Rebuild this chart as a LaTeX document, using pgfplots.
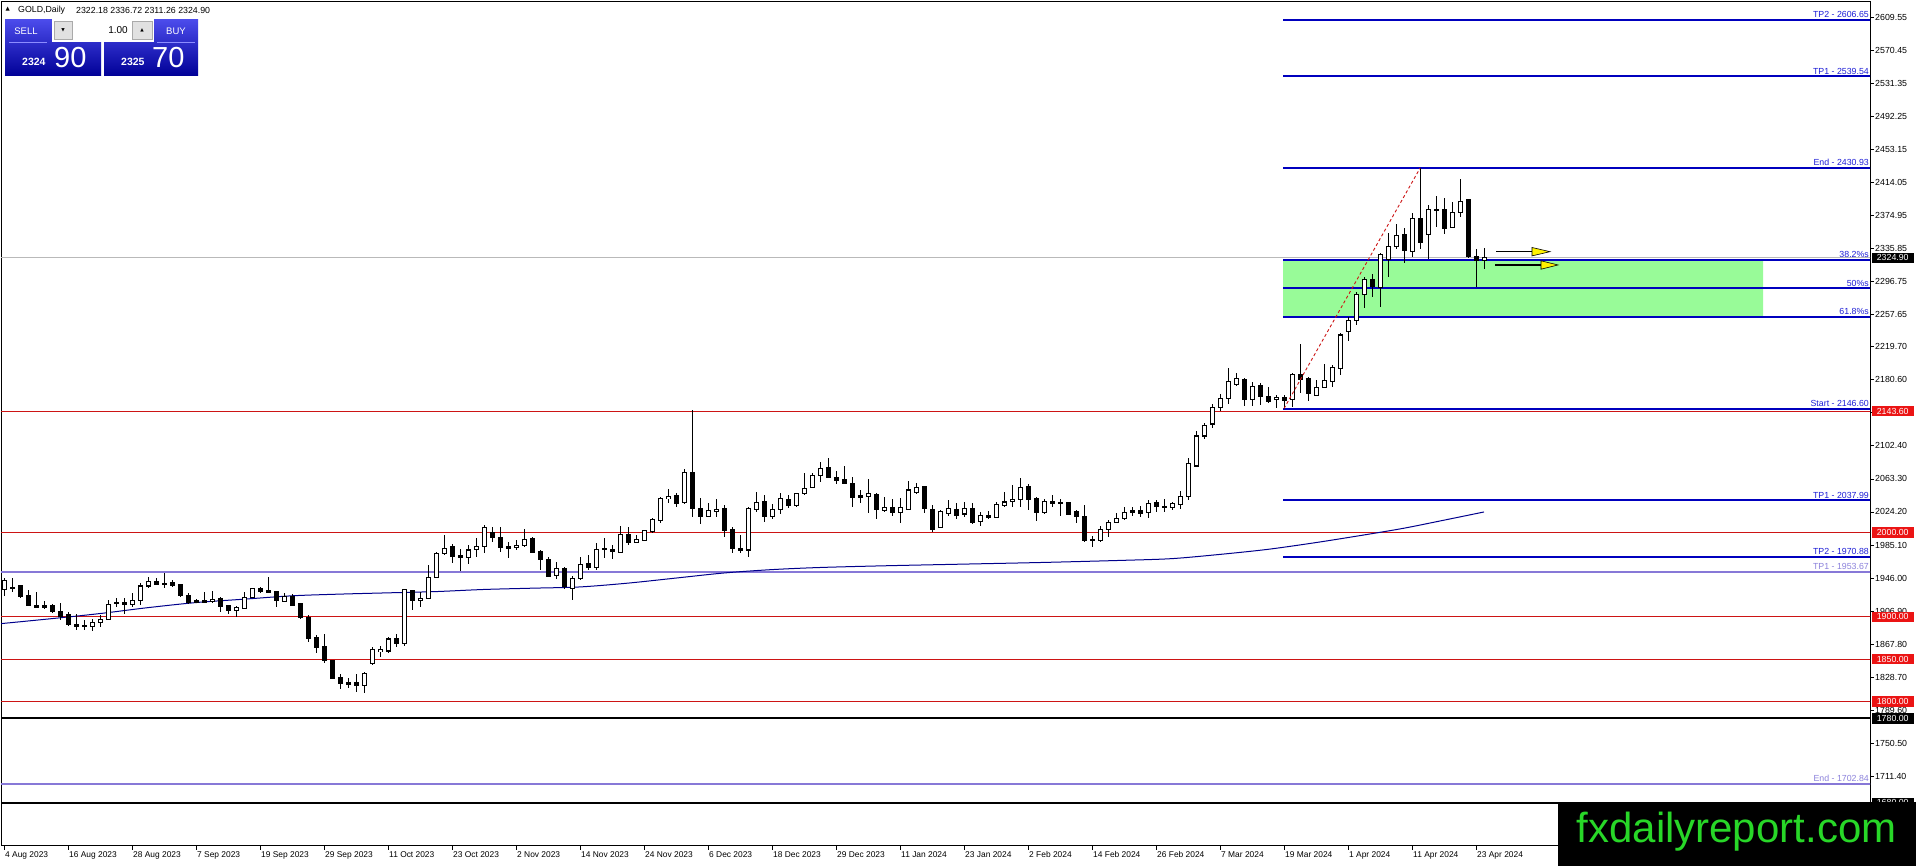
\documentclass[border=0pt]{standalone}
\usepackage{fontspec}
\setmainfont{Liberation Sans}
\newfontfamily\dejavu{DejaVu Sans}
\usepackage{pgfplots}
\pgfplotsset{compat=1.18}
\usepackage{pgfplotstable}

\definecolor{fibblue}{RGB}{0,0,190}
\definecolor{fibtext}{RGB}{30,30,215}
\definecolor{lilac}{RGB}{135,120,215}
\definecolor{lilactext}{RGB}{140,130,220}
\definecolor{srred}{RGB}{205,20,20}
\definecolor{boxred}{RGB}{235,20,20}
\definecolor{maline}{RGB}{0,0,140}
\definecolor{zone}{RGB}{152,251,152}
\definecolor{wm}{RGB}{40,215,40}
\definecolor{curgray}{RGB}{185,185,185}
\definecolor{btngray}{RGB}{225,225,225}
\definecolor{btnborder}{RGB}{170,170,170}
\definecolor{sepline}{RGB}{140,140,255}
\definecolor{paneltop}{RGB}{75,75,235}
\definecolor{panelbot}{RGB}{0,0,150}

\pgfplotstableread{
i o h l c
0 1932.7 1945.7 1924.8 1943.7
1 1935.0 1945.7 1929.9 1933.5
2 1937.0 1937.8 1922.0 1924.0
3 1924.8 1931.9 1913.0 1913.4
4 1913.8 1929.9 1911.0 1911.4
5 1913.4 1919.3 1909.4 1911.4
6 1913.0 1915.3 1905.1 1906.3
7 1907.0 1916.9 1896.4 1901.1
8 1902.3 1906.3 1889.3 1890.5
9 1891.3 1903.5 1884.5 1888.5
10 1889.7 1896.4 1884.5 1888.5
11 1888.5 1897.6 1883.8 1894.0
12 1893.2 1902.3 1887.7 1896.4
13 1897.2 1920.1 1896.4 1914.9
14 1916.1 1922.0 1912.2 1916.9
15 1916.9 1922.0 1903.5 1914.2
16 1914.2 1927.9 1912.2 1919.7
17 1919.3 1940.6 1913.8 1936.6
18 1936.6 1947.7 1933.9 1941.4
19 1942.5 1946.5 1937.8 1938.6
20 1939.8 1951.6 1933.9 1939.0
21 1941.0 1943.7 1935.8 1937.4
22 1938.2 1939.0 1924.0 1924.8
23 1925.2 1927.9 1915.3 1916.9
24 1918.9 1920.8 1916.0 1916.5
25 1918.9 1929.5 1916.1 1917.3
26 1918.5 1930.7 1916.1 1920.8
27 1922.0 1924.0 1906.3 1912.2
28 1913.0 1914.1 1903.5 1907.4
29 1908.2 1913.0 1900.3 1911.0
30 1910.2 1929.9 1909.0 1923.2
31 1923.2 1933.9 1922.0 1933.1
32 1933.9 1935.8 1928.7 1929.9
33 1931.1 1946.9 1927.9 1929.5
34 1929.9 1931.1 1912.2 1919.3
35 1918.1 1927.9 1917.7 1924.0
36 1924.0 1927.1 1913.4 1914.1
37 1915.3 1916.1 1898.0 1899.5
38 1899.5 1902.3 1870.7 1874.7
39 1875.5 1878.6 1856.9 1863.6
40 1864.8 1879.8 1845.9 1848.3
41 1847.9 1849.1 1826.2 1827.0
42 1827.8 1832.5 1814.4 1820.7
43 1822.2 1827.4 1815.5 1819.9
44 1822.2 1832.5 1811.6 1819.1
45 1819.1 1835.2 1809.6 1832.5
46 1845.1 1864.8 1843.1 1860.9
47 1858.9 1865.6 1853.0 1860.9
48 1859.7 1875.9 1857.7 1873.9
49 1874.0 1880.0 1865.0 1868.0
50 1868.0 1933.0 1866.0 1931.9
51 1930.7 1931.1 1908.2 1920.0
52 1920.0 1929.9 1911.4 1922.4
53 1922.0 1961.5 1921.0 1946.9
54 1946.9 1977.3 1945.7 1975.3
55 1974.5 1997.0 1973.3 1981.2
56 1983.9 1986.3 1963.4 1972.1
57 1972.1 1980.0 1954.8 1970.5
58 1970.5 1985.1 1962.7 1979.2
59 1980.0 1993.0 1971.3 1983.1
60 1983.1 2008.8 1976.0 2006.0
61 1999.7 2006.8 1989.1 1994.2
62 1994.2 2006.8 1977.0 1982.4
63 1983.9 1989.1 1969.4 1980.8
64 1982.4 1991.0 1979.2 1985.1
65 1985.1 2003.7 1982.4 1991.8
66 1993.0 1994.2 1975.3 1976.0
67 1978.0 1979.2 1955.5 1967.4
68 1968.2 1970.5 1946.9 1948.4
69 1949.6 1965.4 1944.5 1957.5
70 1957.5 1959.5 1932.7 1935.8
71 1933.9 1948.5 1920.0 1945.7
72 1946.0 1971.0 1944.0 1961.5
73 1963.0 1973.0 1956.0 1959.0
74 1959.0 1987.1 1956.0 1980.0
75 1981.0 1993.0 1970.0 1980.0
76 1980.0 1984.7 1968.2 1977.2
77 1976.5 2007.6 1975.3 1997.8
78 1997.8 2006.0 1985.1 1987.9
79 1987.9 1997.0 1987.5 1991.8
80 1991.0 2002.1 1990.0 2001.7
81 2000.9 2016.7 1999.7 2015.5
82 2013.9 2042.3 2010.8 2040.4
83 2040.0 2051.0 2034.4 2042.3
84 2043.5 2046.3 2030.5 2034.4
85 2035.2 2074.7 2033.6 2071.1
86 2071.1 2144.5 2018.7 2028.5
87 2028.5 2040.4 2009.6 2018.7
88 2018.7 2035.2 2017.9 2025.4
89 2025.0 2039.2 2018.7 2027.7
90 2028.5 2032.5 1994.2 2002.1
91 2003.7 2006.8 1975.3 1981.2
92 1981.2 1997.0 1976.1 1978.4
93 1979.2 2029.7 1971.3 2028.5
94 2027.3 2048.2 2024.6 2035.6
95 2036.4 2044.3 2012.7 2018.7
96 2019.4 2033.6 2015.5 2027.3
97 2026.6 2046.3 2021.8 2040.3
98 2039.2 2044.3 2028.5 2031.3
99 2031.3 2046.0 2030.0 2045.5
100 2046.3 2069.9 2044.3 2052.2
101 2053.0 2070.0 2052.0 2067.0
102 2067.9 2083.7 2060.1 2075.8
103 2077.0 2087.7 2064.0 2065.2
104 2065.2 2073.1 2057.3 2061.3
105 2062.8 2078.6 2057.3 2058.1
106 2058.1 2065.2 2029.7 2041.5
107 2043.1 2050.2 2034.4 2041.8
108 2043.1 2062.8 2023.4 2045.5
109 2044.3 2047.1 2015.5 2027.3
110 2026.5 2041.5 2024.6 2029.3
111 2029.7 2039.2 2019.4 2023.4
112 2023.4 2040.4 2011.6 2029.7
113 2027.3 2061.3 2026.5 2050.2
114 2047.1 2058.9 2045.5 2053.4
115 2054.2 2055.0 2023.4 2028.5
116 2027.3 2032.5 2000.9 2003.7
117 2006.0 2026.5 2004.9 2024.6
118 2022.6 2038.4 2019.4 2028.5
119 2027.3 2034.4 2015.5 2020.0
120 2021.8 2036.4 2018.7 2028.5
121 2028.5 2035.2 2010.0 2011.6
122 2012.7 2024.6 2007.6 2020.6
123 2020.6 2025.8 2015.5 2017.9
124 2017.9 2036.4 2016.7 2032.5
125 2031.7 2047.8 2029.7 2036.0
126 2036.4 2056.1 2029.7 2039.2
127 2039.2 2064.0 2029.7 2053.4
128 2054.9 2057.3 2026.5 2039.2
129 2040.3 2041.5 2013.9 2023.4
130 2023.4 2039.2 2021.8 2036.4
131 2036.0 2044.3 2030.5 2034.4
132 2034.4 2039.2 2019.4 2035.2
133 2035.2 2036.4 2020.6 2021.8
134 2024.6 2026.5 2010.8 2019.4
135 2019.4 2032.5 1989.1 1990.3
136 1991.8 1995.8 1983.1 1991.0
137 1990.3 2007.6 1989.1 2002.9
138 2003.7 2014.7 1994.2 2012.3
139 2011.6 2022.6 2010.8 2016.7
140 2016.7 2029.7 2014.7 2023.4
141 2025.8 2030.5 2019.4 2023.4
142 2025.8 2031.3 2018.7 2022.6
143 2023.4 2038.4 2016.7 2034.4
144 2035.2 2038.4 2024.6 2030.5
145 2030.5 2039.2 2024.6 2029.3
146 2029.7 2036.4 2026.6 2033.7
147 2032.5 2049.4 2027.4 2042.3
148 2042.3 2087.7 2038.4 2081.8
149 2078.6 2120.0 2077.8 2114.1
150 2114.1 2129.9 2110.2 2127.1
151 2128.3 2152.0 2123.2 2148.0
152 2148.0 2163.8 2144.1 2158.7
153 2158.7 2194.2 2152.0 2178.4
154 2175.6 2188.3 2173.3 2181.9
155 2180.4 2182.3 2149.6 2157.5
156 2157.5 2178.4 2149.6 2172.5
157 2174.1 2176.4 2150.8 2160.7
158 2160.7 2171.7 2153.6 2154.7
159 2157.5 2162.6 2147.5 2159.9
160 2159.9 2162.6 2146.6 2155.9
161 2157.5 2188.3 2148.0 2186.3
162 2186.3 2223.0 2165.4 2180.4
163 2181.6 2183.5 2155.9 2164.6
164 2162.6 2180.4 2161.4 2171.7
165 2171.7 2199.3 2170.5 2179.6
166 2178.4 2198.1 2172.5 2195.0
167 2194.2 2236.4 2186.3 2233.6
168 2237.6 2255.3 2226.9 2250.6
169 2250.6 2284.9 2245.5 2281.0
170 2281.0 2302.7 2265.2 2299.5
171 2299.5 2305.8 2279.0 2290.8
172 2290.0 2330.3 2267.2 2329.0
173 2323.2 2354.7 2301.9 2338.2
174 2338.2 2365.0 2335.4 2351.2
175 2352.8 2359.9 2318.4 2333.4
176 2332.2 2378.4 2325.5 2371.7
177 2371.7 2430.9 2335.0 2342.9
178 2352.8 2387.4 2323.2 2382.3
179 2382.3 2398.1 2361.8 2380.7
180 2382.3 2395.3 2353.1 2359.1
181 2361.0 2391.4 2359.9 2378.8
182 2378.8 2417.8 2372.9 2391.4
183 2393.4 2393.8 2324.3 2326.3
184 2326.3 2335.0 2291.0 2321.5
185 2322.18 2336.72 2311.26 2324.90
}\candles

\newcommand\tl{\fontsize{8.8}{10}\selectfont}
\newcommand\pricebox[3]{\node[fill=#2, text=white, anchor=west, inner sep=0pt,
  minimum width=42pt, minimum height=10.5pt, font=\tl] at ([xshift=1.5pt]#1) {#3};}

\begin{document}
\begin{tikzpicture}[x=1pt,y=1pt]
\fill[white] (0,0) rectangle (1916,866);
\useasboundingbox (0,0) rectangle (1916,866);
\begin{axis}[
  at={(1pt,20pt)}, anchor=south west, scale only axis,
  width=1869pt, height=844pt,
  xmin=-0.375, xmax=233.25, ymin=1628.95, ymax=2627.65,
  clip mode=individual,
  axis line style={black, line width=1pt},
  tick style={black, line width=0.8pt},
  tick align=outside, major tick length=4pt,
  ytick pos=right, yticklabel pos=right,
  xtick pos=left,
  scaled y ticks=false, scaled x ticks=false,
  ytick={1672.30,1711.40,1750.50,1789.60,1828.70,1867.80,1906.90,1946.00,1985.10,2024.20,2063.30,2102.40,2141.50,2180.60,2219.70,2257.65,2296.75,2335.85,2374.95,2414.05,2453.15,2492.25,2531.35,2570.45,2609.55},
  yticklabels={1672.30,1711.40,1750.50,1789.60,1828.70,1867.80,1906.90,1946.00,1985.10,2024.20,2063.30,2102.40,2141.50,2180.60,2219.70,2257.65,2296.75,2335.85,2374.95,2414.05,2453.15,2492.25,2531.35,2570.45,2609.55},
  xtick={0,8,...,184},
  xticklabels={{4 Aug 2023},{16 Aug 2023},{28 Aug 2023},{7 Sep 2023},{19 Sep 2023},{29 Sep 2023},{11 Oct 2023},{23 Oct 2023},{2 Nov 2023},{14 Nov 2023},{24 Nov 2023},{6 Dec 2023},{18 Dec 2023},{29 Dec 2023},{11 Jan 2024},{23 Jan 2024},{2 Feb 2024},{14 Feb 2024},{26 Feb 2024},{7 Mar 2024},{19 Mar 2024},{1 Apr 2024},{11 Apr 2024},{23 Apr 2024}},
  yticklabel style={font=\tl, anchor=west, inner sep=0pt, xshift=1pt},
  xticklabel style={font=\fontsize{8.4}{10}\selectfont, anchor=north west, inner sep=0pt, xshift=1pt, yshift=-1pt},
]
% current price line
\addplot[curgray, line width=0.8pt] coordinates {(-1,2324.90) (240,2324.90)};
% fib zone
\addplot[draw=none, fill=zone] coordinates {(159.875,2255.21) (219.9,2255.21) (219.9,2322.32) (159.875,2322.32) (159.875,2255.21)};
% support / resistance lines
\addplot[srred, line width=0.9pt] coordinates {(-1,2143.60) (240,2143.60)};
\addplot[srred, line width=0.9pt] coordinates {(-1,2000) (240,2000)};
\addplot[srred, line width=0.9pt] coordinates {(-1,1900) (240,1900)};
\addplot[srred, line width=0.9pt] coordinates {(-1,1850) (240,1850)};
\addplot[srred, line width=0.9pt] coordinates {(-1,1800) (240,1800)};
\addplot[black, line width=2pt] coordinates {(-1,1780) (240,1780)};
\addplot[black, line width=2pt] coordinates {(-1,1680) (240,1680)};
\addplot[lilac, line width=2pt] coordinates {(-1,1953.67) (240,1953.67)};
\addplot[lilac, line width=2pt] coordinates {(-1,1702.84) (240,1702.84)};
% fibonacci levels
\addplot[fibblue, line width=2pt] coordinates {(159.875,2606.65) (240,2606.65)};
\addplot[fibblue, line width=2pt] coordinates {(159.875,2539.54) (240,2539.54)};
\addplot[fibblue, line width=2pt] coordinates {(159.875,2430.93) (240,2430.93)};
\addplot[fibblue, line width=2pt] coordinates {(159.875,2322.32) (240,2322.32)};
\addplot[fibblue, line width=2pt] coordinates {(159.875,2288.77) (240,2288.77)};
\addplot[fibblue, line width=2pt] coordinates {(159.875,2255.21) (240,2255.21)};
\addplot[fibblue, line width=2pt] coordinates {(159.875,2146.60) (240,2146.60)};
\addplot[fibblue, line width=2pt] coordinates {(159.875,2037.99) (240,2037.99)};
\addplot[fibblue, line width=2pt] coordinates {(159.875,1970.88) (240,1970.88)};
% moving average
\addplot[maline, line width=1pt, smooth] coordinates {
(-1,1891.5) (6,1898) (12,1904) (18,1911) (24,1917) (30,1921) (36,1925) (42,1927)
(48,1928.5) (54,1930) (60,1932.5) (66,1934) (72,1935.5) (78,1940) (84,1946) (90,1952)
(96,1956) (102,1958.5) (110,1960.5) (120,1962.5) (130,1964.5) (140,1967) (146,1969)
(152,1974) (158,1980) (164,1988) (170,1997) (175,2005) (180,2014.5) (185,2024.2)};
% wicks
\addplot[draw=none, mark=none, error bars/.cd, y dir=both, y explicit, error mark=none,
  error bar style={draw=black, line width=1pt}]
  table[x=i, y expr={(\thisrow{h}+\thisrow{l})/2}, y error expr={(\thisrow{h}-\thisrow{l})/2}] {\candles};
% bodies
\addplot[draw=none, mark=none, error bars/.cd, y dir=both, y explicit, error mark=none,
  error bar style={draw=black, line width=5pt}]
  table[x=i, y expr={(\thisrow{o}+\thisrow{c})/2}, y error expr={abs(\thisrow{c}-\thisrow{o})/2+0.6}] {\candles};
\addplot[draw=none, mark=none, error bars/.cd, y dir=both, y explicit, error mark=none,
  error bar style={draw=white, line width=3pt}]
  table[x=i, y expr={(\thisrow{o}+\thisrow{c})/2}, y error expr={max((\thisrow{c}-\thisrow{o})/2-0.6,0)}] {\candles};
% fib trend line
\addplot[srred, line width=0.9pt, dash pattern=on 3pt off 2.5pt] coordinates {(160,2146.6) (177,2430.93)};

\coordinate (f2606) at (axis cs:233.25,2606.65);
\coordinate (f2539) at (axis cs:233.25,2539.54);
\coordinate (f2430) at (axis cs:233.25,2430.93);
\coordinate (f2322) at (axis cs:233.25,2322.32);
\coordinate (f2288) at (axis cs:233.25,2288.77);
\coordinate (f2255) at (axis cs:233.25,2255.21);
\coordinate (f2146) at (axis cs:233.25,2146.60);
\coordinate (f2037) at (axis cs:233.25,2037.99);
\coordinate (f1970) at (axis cs:233.25,1970.88);
\coordinate (f1953) at (axis cs:233.25,1953.67);
\coordinate (f1702) at (axis cs:233.25,1702.84);
\coordinate (p2324) at (axis cs:233.25,2324.90);
\coordinate (p2143) at (axis cs:233.25,2143.60);
\coordinate (p2000) at (axis cs:233.25,2000);
\coordinate (p1900) at (axis cs:233.25,1900);
\coordinate (p1850) at (axis cs:233.25,1850);
\coordinate (p1800) at (axis cs:233.25,1800);
\coordinate (p1780) at (axis cs:233.25,1780);
\coordinate (p1680) at (axis cs:233.25,1680);
\end{axis}

% fib labels
\begin{scope}[every node/.style={anchor=south east, inner sep=0pt, font=\tl, text=fibtext}]
\node at ([xshift=-1pt,yshift=2pt]f2606) {TP2 - 2606.65};
\node at ([xshift=-1pt,yshift=2pt]f2539) {TP1 - 2539.54};
\node at ([xshift=-1pt,yshift=2pt]f2430) {End - 2430.93};
\node at ([xshift=-1pt,yshift=2pt]f2322) {38.2\%s};
\node at ([xshift=-1pt,yshift=2pt]f2288) {50\%s};
\node at ([xshift=-1pt,yshift=2pt]f2255) {61.8\%s};
\node at ([xshift=-1pt,yshift=2pt]f2146) {Start - 2146.60};
\node at ([xshift=-1pt,yshift=2pt]f2037) {TP1 - 2037.99};
\node at ([xshift=-1pt,yshift=2pt]f1970) {TP2 - 1970.88};
\node[text=lilactext] at ([xshift=-1pt,yshift=2pt]f1953) {TP1 - 1953.67};
\node[text=lilactext] at ([xshift=-1pt,yshift=2pt]f1702) {End - 1702.84};
\end{scope}

% price boxes
\pricebox{p2324}{black}{2324.90}
\pricebox{p2143}{boxred}{2143.60}
\pricebox{p2000}{boxred}{2000.00}
\pricebox{p1900}{boxred}{1900.00}
\pricebox{p1850}{boxred}{1850.00}
\pricebox{p1800}{boxred}{1800.00}
\pricebox{p1780}{black}{1780.00}
\pricebox{p1680}{black}{1680.00}

% arrows
\draw[black, line width=1.2pt] (1496,614.3) -- (1533,614.3);
\filldraw[fill=yellow, draw=black, line width=0.6pt] (1532,618.5) -- (1550,614.3) -- (1532,610.1) -- cycle;
\draw[black, line width=1.2pt] (1495,601) -- (1542,601);
\filldraw[fill=yellow, draw=black, line width=0.6pt] (1541,605.2) -- (1558,601) -- (1541,596.8) -- cycle;

% header
\node[anchor=west, inner sep=0pt, font=\dejavu\fontsize{5.5}{6}\selectfont] at (5.5,856.5) {▲};
\node[anchor=west, inner sep=0pt, font=\tl] at (18,856) {GOLD,Daily};
\node[anchor=west, inner sep=0pt, font=\tl] at (76,856) {2322.18 2336.72 2311.26 2324.90};

% trade panel
\shade[top color=paneltop, bottom color=panelbot] (5,846) rectangle (101,790);
\shade[top color=paneltop, bottom color=panelbot] (104,846) rectangle (198,790);
\fill[white] (52,847) rectangle (154,824);
\filldraw[fill=btngray, draw=btnborder, line width=0.5pt] (54.5,845) rectangle (72,826.5);
\filldraw[fill=btngray, draw=btnborder, line width=0.5pt] (132.5,845) rectangle (152,826.5);
\node[inner sep=0pt, font=\dejavu\fontsize{4.5}{5}\selectfont] at (63,835.5) {▼};
\node[inner sep=0pt, font=\dejavu\fontsize{4.5}{5}\selectfont] at (142,835.5) {▲};
\node[anchor=east, inner sep=0pt, font=\fontsize{10}{11}\selectfont] at (128,835.5) {1.00};
\draw[sepline, line width=0.7pt] (9,824) -- (47,824);
\draw[sepline, line width=0.7pt] (157,824) -- (195,824);
\node[inner sep=0pt, text=white, font=\fontsize{9.5}{11}\selectfont] at (26,834.5) {SELL};
\node[inner sep=0pt, text=white, font=\fontsize{9.5}{11}\selectfont] at (176,834.5) {BUY};
\node[anchor=base west, inner sep=0pt, text=white, font=\bfseries\fontsize{10.5}{12}\selectfont] at (22,800) {2324};
\node[anchor=base west, inner sep=0pt, text=white, font=\fontsize{29}{30}\selectfont] at (54,798) {90};
\node[anchor=base west, inner sep=0pt, text=white, font=\bfseries\fontsize{10.5}{12}\selectfont] at (121,800) {2325};
\node[anchor=base west, inner sep=0pt, text=white, font=\fontsize{29}{30}\selectfont] at (152,798) {70};

% watermark
\fill[black] (1558,0) rectangle (1916,64);
\node[anchor=base, inner sep=0pt, text=wm, font=\fontsize{42}{44}\selectfont] at (1736.5,23) {fxdailyreport.com};
\end{tikzpicture}
\end{document}
